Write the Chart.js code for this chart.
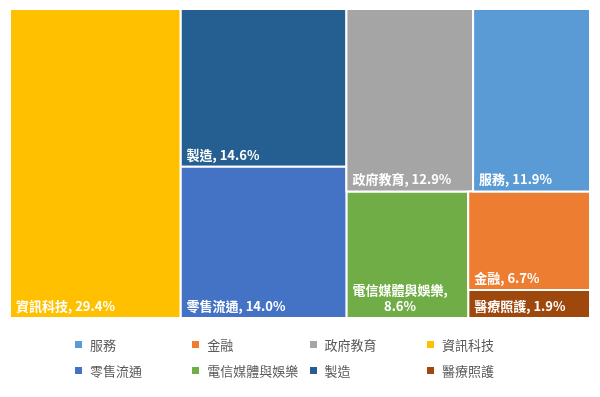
<!DOCTYPE html>
<html>
<head>
<meta charset="utf-8">
<script src="https://cdn.jsdelivr.net/npm/chart.js@4.4.1/dist/chart.umd.min.js"></script>
<style>
  html, body { margin: 0; padding: 0; background: #fff; }
  #wrap { position: relative; width: 600px; height: 397px; overflow: hidden; }
  #c { position: absolute; left: 0; top: 0; }
  #legend { position: absolute; left: 75px; top: 336px; width: 480px;
    display: grid; grid-template-columns: repeat(4, 117.3px); grid-auto-rows: 26px;
    font-family: "Noto Sans CJK TC", "Noto Sans", sans-serif; font-size: 13px; color: #595959; }
  .item { display: flex; align-items: center; height: 17px; white-space: nowrap; }
  .box { width: 7px; height: 7px; margin-right: 8px; flex: none; }
</style>
</head>
<body>
<div id="wrap">
  <canvas id="c" width="600" height="397"></canvas>
  <div id="legend"></div>
</div>
<script>
// ---- data ----
const categories = ['資訊科技', '製造', '零售流通', '政府教育', '服務', '電信媒體與娛樂', '金融', '醫療照護'];
const values = [29.4, 14.6, 14.0, 12.9, 11.9, 8.6, 6.7, 1.9];
const legendOrder = ['服務', '金融', '政府教育', '資訊科技', '零售流通', '電信媒體與娛樂', '製造', '醫療照護'];
const colors = ['#FFC000', '#255E91', '#4472C4', '#A5A5A5', '#5B9BD5', '#70AD47', '#ED7D31', '#9E480E'];

// ---- squarified treemap layout in scale units ----
const W = 580, H = 309;
function worst(row, side) {
  const s = row.reduce((a, r) => a + r.area, 0);
  let mx = -Infinity, mn = Infinity;
  row.forEach(r => { mx = Math.max(mx, r.area); mn = Math.min(mn, r.area); });
  return Math.max(side * side * mx / (s * s), (s * s) / (side * side * mn));
}
function squarify(items, rect) {
  const out = [];
  let rem = items.slice();
  let r = Object.assign({}, rect);
  while (rem.length) {
    const side = Math.min(r.w, r.h);
    const row = [rem[0]];
    let i = 1;
    while (i < rem.length && worst(row.concat([rem[i]]), side) <= worst(row, side)) { row.push(rem[i]); i++; }
    const s = row.reduce((a, q) => a + q.area, 0);
    if (r.w >= r.h) {
      const cw = s / r.h; let y = r.y;
      row.forEach(q => { const h = q.area / cw; out.push({ item: q, x0: r.x, x1: r.x + cw, y0: y, y1: y + h }); y += h; });
      r = { x: r.x + cw, y: r.y, w: r.w - cw, h: r.h };
    } else {
      const rh = s / r.w; let x = r.x;
      row.forEach(q => { const w = q.area / rh; out.push({ item: q, x0: x, x1: x + w, y0: r.y, y1: r.y + rh }); x += w; });
      r = { x: r.x, y: r.y + rh, w: r.w, h: r.h - rh };
    }
    rem = rem.slice(i);
  }
  return out;
}
const total = values.reduce((a, b) => a + b, 0);
const items = categories.map((c, i) => ({ name: c, value: values[i], color: colors[i], area: values[i] / total * W * H }))
  .sort((a, b) => b.value - a.value);
const cells = squarify(items, { x: 0, y: 0, w: W, h: H });

const datasets = legendOrder.map(name => {
  const cell = cells.find(c => c.item.name === name);
  return {
    label: name,
    data: [
      { x: cell.x0, y: cell.y0 }, { x: cell.x1, y: cell.y0 },
      { x: cell.x1, y: cell.y1 }, { x: cell.x0, y: cell.y1 }, { x: cell.x0, y: cell.y0 }
    ],
    backgroundColor: cell.item.color,
    borderColor: '#ffffff',
    borderWidth: 2,
    borderJoinStyle: 'miter',
    fill: 'shape',
    pointRadius: 0,
    tension: 0,
    cellValue: cell.item.value
  };
});

const labelPlugin = {
  id: 'cellLabels',
  afterDatasetsDraw(chart) {
    const ctx = chart.ctx, xs = chart.scales.x, ys = chart.scales.y;
    ctx.save();
    ctx.font = 'bold 13px "Noto Sans CJK TC", "Noto Sans", sans-serif';
    ctx.fillStyle = '#ffffff';
    ctx.textBaseline = 'alphabetic';
    chart.data.datasets.forEach(ds => {
      const p = ds.data;
      const left = xs.getPixelForValue(p[0].x), right = xs.getPixelForValue(p[1].x);
      const bottom = ys.getPixelForValue(p[2].y);
      const full = ds.label + ', ' + ds.cellValue.toFixed(1) + '%';
      const avail = right - left - 12;
      let lines = [full];
      if (ctx.measureText(full).width > avail) lines = [ds.label + ',', ds.cellValue.toFixed(1) + '%'];
      const widths = lines.map(l => ctx.measureText(l).width);
      const maxW = Math.max.apply(null, widths);
      const lh = 16;
      lines.forEach((l, i) => {
        const y = bottom - 7 - (lines.length - 1 - i) * lh;
        const x = left + 6 + (lines.length > 1 ? (maxW - widths[i]) / 2 : 0);
        ctx.fillText(l, x, y);
      });
    });
    ctx.restore();
  }
};

new Chart(document.getElementById('c'), {
  type: 'line',
  data: { datasets },
  options: {
    responsive: false,
    animation: false,
    devicePixelRatio: 1,
    events: [],
    layout: { padding: { left: 10, right: 10, top: 9, bottom: 79 } },
    scales: {
      x: { type: 'linear', min: 0, max: W, display: false },
      y: { type: 'linear', min: 0, max: H, reverse: true, display: false }
    },
    plugins: { legend: { display: false }, tooltip: { enabled: false } }
  },
  plugins: [labelPlugin]
});

// ---- legend ----
const lg = document.getElementById('legend');
legendOrder.forEach(name => {
  const i = categories.indexOf(name);
  const d = document.createElement('div');
  d.className = 'item';
  d.innerHTML = '<span class="box" style="background:' + colors[i] + '"></span><span>' + name + '</span>';
  lg.appendChild(d);
});
</script>
</body>
</html>
